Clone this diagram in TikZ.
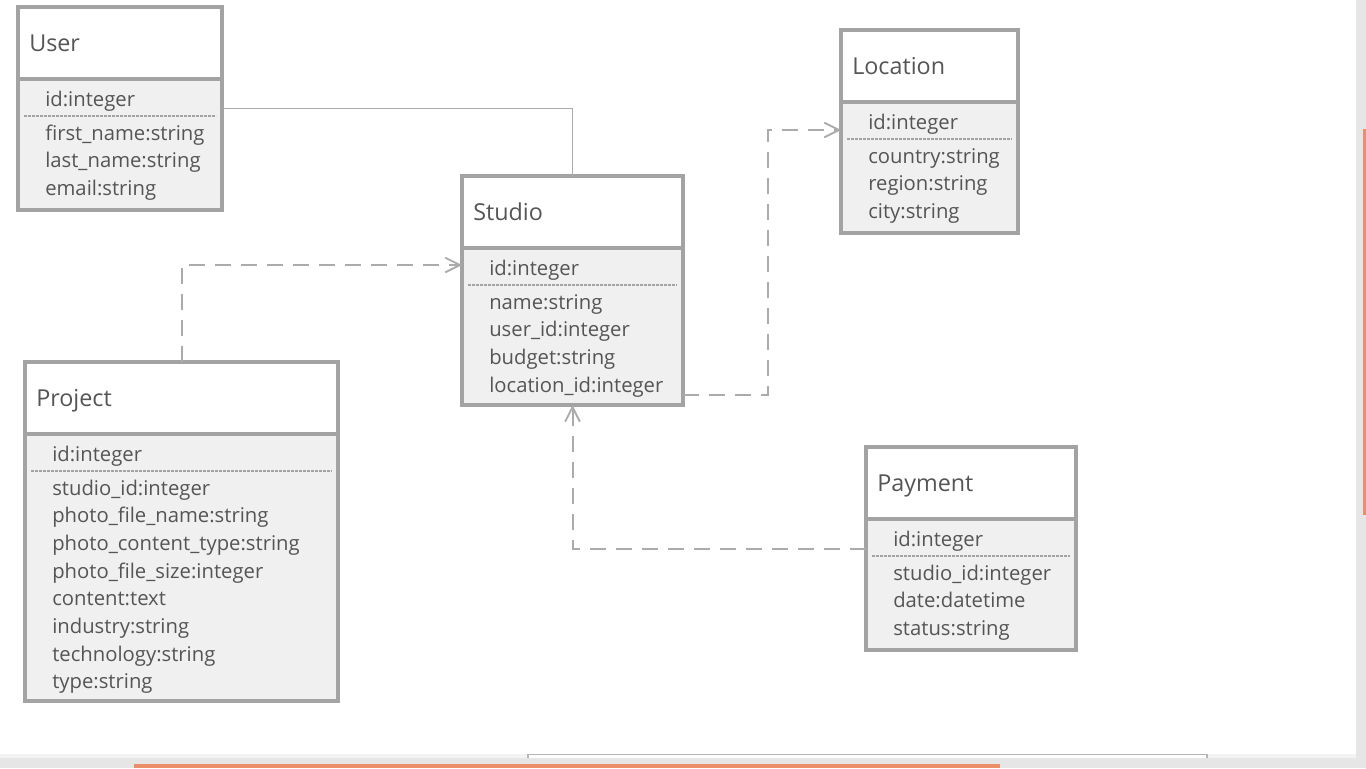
\documentclass[tikz,border=0pt]{standalone}
\usepackage{fontspec}
\setmainfont{Open Sans}
\usetikzlibrary{arrows.meta}
\definecolor{bord}{HTML}{A3A3A3}
\definecolor{body}{HTML}{F0F0F0}
\definecolor{txt}{HTML}{555555}
\definecolor{conn}{HTML}{ABABAB}
\definecolor{chrome}{HTML}{E6E6E6}
\definecolor{chromel}{HTML}{F3F3F3}
\definecolor{accent}{HTML}{EC8F69}
\tikzset{
  cls/.style={draw=bord, line width=2.3pt, fill=body, inner sep=0pt, outer sep=0pt,
    path picture={
      \fill[white] (path picture bounding box.north west) rectangle ([yshift=-54pt]path picture bounding box.north east);
      \draw[bord, line width=2.3pt] ([yshift=-54pt]path picture bounding box.north west) -- ([yshift=-54pt]path picture bounding box.north east);
      \draw[bord, line width=0.8pt, dash pattern=on 2pt off 1pt] ([xshift=4.5pt,yshift=-81.75pt]path picture bounding box.north west) -- ([xshift=-4.5pt,yshift=-81.75pt]path picture bounding box.north east);
    }},
  ttl/.style={text=txt, font=\fontsize{17.5pt}{20pt}\selectfont, inner sep=0pt, anchor=base west},
  att/.style={text=txt, font=\fontsize{15.2pt}{18pt}\selectfont, inner sep=0pt, anchor=base west},
  solidconn/.style={draw=conn, line width=1.4pt},
  dashconn/.style={draw=conn, line width=1.5pt, dash pattern=on 12pt off 7.5pt, -{Straight Barb[length=11pt,width=11pt,line width=1.4pt]}},
}
\newcommand\umlclass[8]{%
  \node[cls, minimum width=#4*0.75pt, minimum height=#5*0.75pt, anchor=north west] (#1) at (#2,#3) {};
  \node[ttl] (#1-t) at (#2+11,#3+44) {#6};
  \node[att] (#1-pk) at (#2+27,#3+99.5) {#7};
  \foreach \a [count=\i] in {#8} {\node[att] (#1-a\i) at (#2+27,#3+133+27.7*\i-27.7) {\a};}
}
\begin{document}
\begin{tikzpicture}[x=0.75pt,y=-0.75pt]
\useasboundingbox (0,0) rectangle (1366,768);
\fill[white] (0,0) rectangle (1356,754);
\fill[chromel] (0,754) rectangle (1356,758);
\fill[chrome] (0,758) rectangle (1366,768);
\fill[chrome] (1356,0) rectangle (1366,758);
\fill[accent] (1363,129) rectangle (1366,515);
\fill[accent] (134,764) rectangle (1000,768);
\draw[draw=bord!80, fill=white, line width=0.8pt] (528,758) -- (528,754.5) -- (1207,754.5) -- (1207,758);

\umlclass{user}{18}{7}{204}{203}{User}{id:integer}{first\_name:string, last\_name:string, email:string}
\umlclass{location}{841}{30}{177}{203}{Location}{id:integer}{country:string, region:string, city:string}
\umlclass{studio}{462}{176}{221}{229}{Studio}{id:integer}{name:string, user\_id:integer, budget:string, location\_id:integer}
\umlclass{project}{25}{362}{313}{339}{Project}{id:integer}{studio\_id:integer, photo\_file\_name:string, photo\_content\_type:string, photo\_file\_size:integer, content:text, industry:string, technology:string, type:string}
\umlclass{payment}{866}{447}{210}{203}{Payment}{id:integer}{studio\_id:integer, date:datetime, status:string}

\draw[solidconn] (user.east) -| (studio.north);
\draw[dashconn] (project.north) |- (studio.west |- 0,265);
\draw[dashconn] (studio.east |- 0,395) -- (768,395) |- (location.west |- 0,130);
\draw[dashconn] (payment.west) -| (studio.south);
\end{tikzpicture}
\end{document}
